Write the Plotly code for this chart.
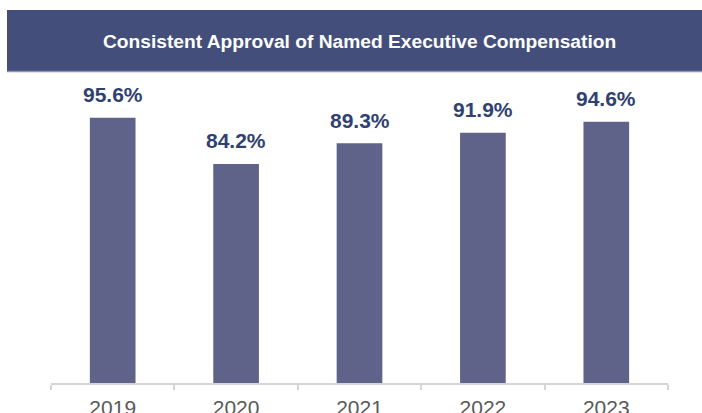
import plotly.graph_objects as go

years = ["2019", "2020", "2021", "2022", "2023"]
approval = [95.6, 84.2, 89.3, 91.9, 94.6]
labels = ["95.6%", "84.2%", "89.3%", "91.9%", "94.6%"]
title_text = "Consistent Approval of Named Executive Compensation"

W, H = 702, 413
ML, MR, MT, MB = 51, 34, 100, 30
pw = W - ML - MR
ph = H - MT - MB

def px_x(x):
    return (x - ML) / pw

def px_y(y):
    return (H - MB - y) / ph

fig = go.Figure()
fig.add_trace(go.Bar(
    x=years, y=approval,
    marker=dict(color="#5f6389", line=dict(width=0)),
    hoverinfo="skip",
))

for i, (v, t) in enumerate(zip(approval, labels)):
    fig.add_annotation(
        x=i, y=v, text="<b>%s</b>" % t, showarrow=False,
        yanchor="middle", yshift=23,
        font=dict(family="Arial, Liberation Sans, sans-serif", size=21, color="#2f4170"),
    )

# header banner
fig.add_shape(type="rect", xref="paper", yref="paper",
              x0=px_x(7), x1=px_x(703), y0=px_y(72), y1=px_y(10),
              fillcolor="#434f7a", line=dict(width=0), layer="below")
fig.add_shape(type="line", xref="paper", yref="paper",
              x0=px_x(7), x1=px_x(703), y0=px_y(71.5), y1=px_y(71.5),
              line=dict(color="#8c95b8", width=1.5))
fig.add_annotation(
    xref="paper", yref="paper", x=px_x(359), y=px_y(41),
    text="<b>%s</b>" % title_text, showarrow=False,
    xanchor="center", yanchor="middle",
    font=dict(family="Arial, Liberation Sans, sans-serif", size=19.2, color="#ffffff"),
)

fig.update_layout(
    width=W, height=H,
    margin=dict(l=ML, r=MR, t=MT, b=MB, pad=0, autoexpand=False),
    paper_bgcolor="#ffffff", plot_bgcolor="#ffffff",
    showlegend=False, bargap=0.63,
)
fig.update_xaxes(
    type="category", range=[-0.5, len(years) - 0.5], automargin=False,
    showline=True, linecolor="#d4d4d4", linewidth=1.5, tickangle=0,
    ticks="outside", tickson="boundaries", ticklen=5, tickcolor="#d4d4d4", tickwidth=1.5,
    ticklabelstandoff=5,
    tickfont=dict(family="Arial, Liberation Sans, sans-serif", size=21, color="#595959"),
    showgrid=False, zeroline=False,
)
fig.update_yaxes(range=[30, 100], visible=False, showgrid=False, zeroline=False)

fig.write_html(
    "out.html",
    config={"displayModeBar": False},
    post_script="document.body.style.margin='0';document.body.style.overflow='hidden';",
)
